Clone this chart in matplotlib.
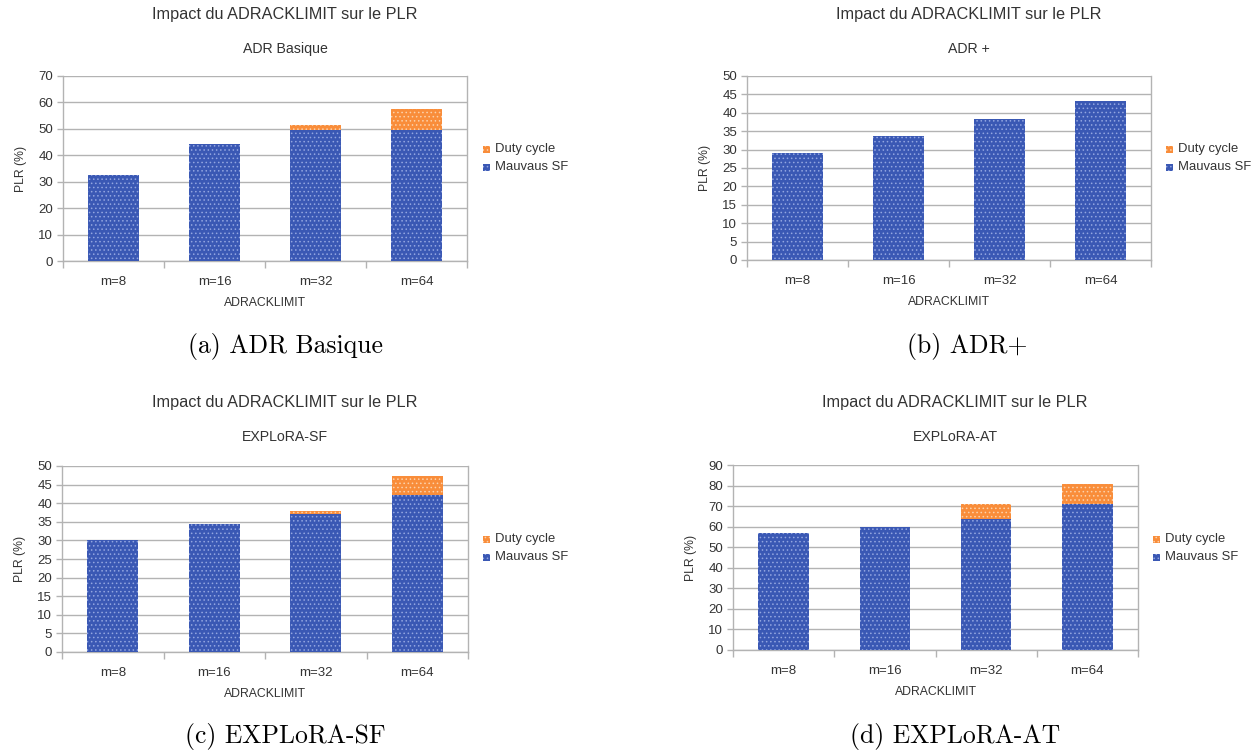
import matplotlib
matplotlib.use("Agg")
import matplotlib.pyplot as plt
from matplotlib.patches import Rectangle
import numpy as np

plt.rcParams["font.family"] = ["Liberation Sans", "DejaVu Sans"]
plt.rcParams["hatch.linewidth"] = 0.6

W, H = 1259, 753

categories = ["m=8", "m=16", "m=32", "m=64"]

# PLR split per panel: wrong-SF losses (bottom) and duty-cycle losses (top)
adr_basique_sf = [32.6, 44.2, 49.5, 49.5]
adr_basique_dc = [0.0, 0.0, 2.0, 8.1]

adr_plus_sf = [29.2, 33.6, 38.2, 43.1]
adr_plus_dc = [0.0, 0.0, 0.0, 0.0]

explora_sf_sf = [30.0, 34.5, 37.0, 42.1]
explora_sf_dc = [0.0, 0.0, 1.0, 5.1]

explora_at_sf = [56.8, 59.7, 63.5, 70.8]
explora_at_dc = [0.0, 0.0, 7.3, 10.2]

chart_title = "Impact du ADRACKLIMIT sur le PLR"
subtitles = ["ADR Basique", "ADR +", "EXPLoRA-SF", "EXPLoRA-AT"]
captions = ["(a) ADR Basique", "(b) ADR+", "(c) EXPLoRA-SF", "(d) EXPLoRA-AT"]
y_limits = [70, 50, 50, 90]
y_steps = [10, 5, 5, 10]

BLUE = "#3a58b4"
BLUE_DOT = "#92a5e0"
ORANGE = "#f98d3a"
ORANGE_DOT = "#fcd1aa"
GRID = "#b3b3b3"
TEXT = "#333333"


def fx(x):
    return x / W


def fy(y):
    return 1 - y / H


fig = plt.figure(figsize=(W / 100, H / 100), dpi=100)

panels = [
    dict(sf=adr_basique_sf, dc=adr_basique_dc, box=(63, 76, 467, 261),
         cx=285, top=0, leg=(484, 149), cap=(285, 347)),
    dict(sf=adr_plus_sf, dc=adr_plus_dc, box=(747, 76, 1151, 260),
         cx=969, top=0, leg=(1167, 149), cap=(967, 347)),
    dict(sf=explora_sf_sf, dc=explora_sf_dc, box=(62, 466, 468, 652),
         cx=285, top=388, leg=(484, 539), cap=(285, 736)),
    dict(sf=explora_at_sf, dc=explora_at_dc, box=(733, 465, 1138, 650),
         cx=955, top=388, leg=(1154, 539), cap=(955, 736)),
]

x = np.arange(len(categories))

for i, p in enumerate(panels):
    x0, y0, x1, y1 = p["box"]
    ax = fig.add_axes([fx(x0), fy(y1), (x1 - x0) / W, (y1 - y0) / H])
    sf = np.array(p["sf"])
    dc = np.array(p["dc"])
    ax.bar(x, sf, width=0.5, color=BLUE, edgecolor=BLUE_DOT, hatch="....",
           linewidth=0, zorder=3)
    ax.bar(x, dc, width=0.5, bottom=sf, color=ORANGE, edgecolor=ORANGE_DOT,
           hatch="....", linewidth=0, zorder=3)

    ax.set_xlim(-0.5, len(categories) - 0.5)
    ax.set_ylim(0, y_limits[i])
    ax.set_yticks(np.arange(0, y_limits[i] + 0.1, y_steps[i]))
    ax.set_xticks(x)
    ax.set_xticklabels(categories)
    ax.set_xticks(np.arange(-0.5, len(categories)), minor=True)
    ax.tick_params(axis="x", which="major", length=0, pad=11, labelsize=9.5,
                   labelcolor=TEXT)
    ax.tick_params(axis="x", which="minor", length=5, color=GRID, width=1)
    ax.tick_params(axis="y", length=4, color=GRID, width=1, labelsize=9.5,
                   labelcolor=TEXT, pad=3)
    ax.grid(axis="y", color=GRID, linewidth=1, zorder=0)
    for side in ["left", "right", "bottom"]:
        ax.spines[side].set_color(GRID)
        ax.spines[side].set_linewidth(1)
    ax.spines["top"].set_visible(False)
    ax.set_ylabel("PLR (%)", fontsize=8.8, color=TEXT, labelpad=8)
    ax.set_xlabel("ADRACKLIMIT", fontsize=8.8, color=TEXT, labelpad=6.5)

    # headers and caption
    t = p["top"]
    fig.text(fx(p["cx"]), fy(t + 15), chart_title, ha="center", va="center",
             fontsize=11.7, color=TEXT)
    fig.text(fx(p["cx"]), fy(t + 49), subtitles[i], ha="center", va="center",
             fontsize=10.2, color=TEXT)
    cx, cy = p["cap"]
    fig.text(fx(cx), fy(cy), captions[i], ha="center", va="center",
             fontsize=18.5, color="black", family="cmr10")

    # legend: duty cycle above wrong SF
    lx, ly = p["leg"]
    for k, (fc, dot, label) in enumerate([(ORANGE, ORANGE_DOT, "Duty cycle"),
                                          (BLUE, BLUE_DOT, "Mauvaus SF")]):
        yy = ly + 18 * k
        fig.patches.append(Rectangle((fx(lx - 1), fy(yy + 3.5)), 7 / W, 7 / H,
                                     transform=fig.transFigure,
                                     facecolor=fc, edgecolor=dot,
                                     hatch="....", linewidth=0))
        fig.text(fx(lx + 11), fy(yy), label, ha="left", va="center",
                 fontsize=9.4, color=TEXT)

fig.savefig("out.png", dpi=100, facecolor="white")
